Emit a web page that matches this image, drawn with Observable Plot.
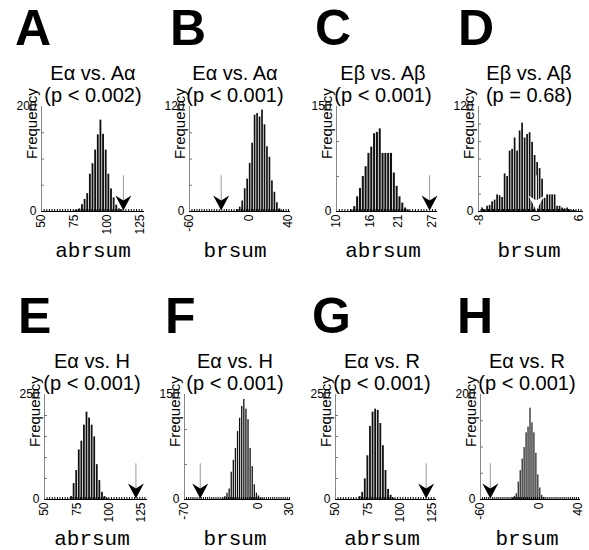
<!DOCTYPE html>
<html><head><meta charset="utf-8">
<script src="https://cdn.jsdelivr.net/npm/d3@7"></script>
<script src="https://cdn.jsdelivr.net/npm/@observablehq/plot@0.6"></script>
<style>
body{margin:0;background:#fff;}
#fig{position:relative;width:589px;height:550px;overflow:hidden;background:#fff;font-family:"Liberation Sans",Arial,Helvetica,sans-serif;color:#000;}
.abs{position:absolute;white-space:nowrap;}
.letter{font-weight:bold;font-size:50px;line-height:50px;}
.title{font-size:20px;line-height:22.4px;transform:translateX(-50%);}
.stat{font-family:"Liberation Mono","Courier New",monospace;font-size:21px;line-height:21px;transform:translateX(-50%);}
</style></head><body><div id="fig"></div>
<script>
// ---------- data ----------
const letters = ["A","B","C","D","E","F","G","H"];
const comparisons = ["Eα vs. Aα","Eα vs. Aα","Eβ vs. Aβ","Eβ vs. Aβ","Eα vs. H","Eα vs. H","Eα vs. R","Eα vs. R"];
const pValues = ["(p < 0.002)","(p < 0.001)","(p < 0.001)","(p = 0.68)","(p < 0.001)","(p < 0.001)","(p < 0.001)","(p < 0.001)"];
const statistics = ["abrsum","brsum","abrsum","brsum","abrsum","brsum","abrsum","brsum"];
const xTickValues = [[50,75,100,125],[-60,0,40],[10,16,21,27],[-8,0,6],[50,75,100,125],[-70,0,30],[50,75,100,125],[-60,0,40]];
const xDomains = [[50,128],[-60,42],[10,27.9],[-8.1,6.6],[50,130],[-70,31],[50,128],[-60,42]];
const yMaxValues = [200,120,150,120,250,150,250,200];
const yMinorSteps = [50,30,50,20,50,50,50,50];
const observedValues = [112,-28,26.5,0,121,-55,120,-50];
const binStarts = [74,-12.5,12.5,-7.7,70,-34,68,-28];
const binWidths = [2,2.5,0.5,0.35,2,2,2,2];
const countsA = [1,3,5,13,23,34,71,91,117,146,174,147,117,71,43,26,12,5,3,1];
const countsB = [2,5,12,26,37,55,78,110,112,108,116,99,74,62,35,22,10,3,1];
const countsC = [2,7,21,33,50,64,83,92,111,113,118,83,83,83,83,55,36,21,12,5,2];
const countsD = [4,2,6,7,11,13,19,18,16,43,40,69,71,84,69,92,101,84,88,90,79,64,56,49,37,15,19,19,19,19,6,6,4,3,4,2,1,1];
const countsE = [7,38,69,118,139,177,208,194,177,149,83,45,17,7,2];
const countsF = [2,4,9,15,39,56,73,97,116,133,143,129,114,73,47,21,9,5,2,1];
const countsG = [7,17,49,104,174,208,215,212,181,128,69,24,10,3];
const countsH = [3,6,11,33,55,77,99,127,138,174,146,127,88,47,22,8,4];
const allCounts = [countsA,countsB,countsC,countsD,countsE,countsF,countsG,countsH];
const whiteArrow = [false,false,false,true,false,false,false,false];

// ---------- layout ----------
const layout = [
  {ax0:41, ax1:144, lx:15, cx:93},
  {ax0:189, ax1:290, lx:170, cx:235},
  {ax0:336, ax1:437, lx:315, cx:383},
  {ax0:478, ax1:583, lx:458, cx:529},
  {ax0:44, ax1:147, lx:18, cx:92},
  {ax0:184, ax1:290, lx:165, cx:235},
  {ax0:335, ax1:436, lx:312, cx:382},
  {ax0:480, ax1:580, lx:457, cx:527}
];
const rowOffset = 288;
const mL = 45, mR = 6, mT = 6, mB = 30;

const arrowHead = {
  draw(ctx) {
    ctx.moveTo(0, 0);
    ctx.lineTo(-8, -15);
    ctx.lineTo(0, -10);
    ctx.lineTo(8, -15);
    ctx.closePath();
  }
};

const fig = document.getElementById("fig");
function addDiv(cls, text, left, top) {
  const d = document.createElement("div");
  d.className = "abs " + cls;
  d.textContent = text;
  d.style.left = left + "px";
  d.style.top = top + "px";
  fig.appendChild(d);
}

letters.forEach((letter, i) => {
  const L = layout[i];
  const off = i < 4 ? 0 : rowOffset;
  const plotTop = 106 + off, base = 211 + off;
  const plotW = L.ax1 - L.ax0, plotH = base - plotTop;
  const yMax = yMaxValues[i];
  const dom = xDomains[i];
  const bw = binWidths[i];
  const bins = allCounts[i].map((c, k) => ({x0: binStarts[i] + k * bw, x1: binStarts[i] + (k + 1) * bw, count: c}));
  const minorX = d3.range(dom[0], dom[1], bw);
  const minorY = d3.range(yMinorSteps[i], yMax, yMinorSteps[i]);
  const obs = [observedValues[i]];
  const headColor = whiteArrow[i] ? "#fff" : "#000";
  const lineColor = whiteArrow[i] ? "#fff" : "#999";

  addDiv("letter", letter, L.lx, 3 + off);
  addDiv("title", comparisons[i], L.cx, 62 + off);
  addDiv("title", pValues[i], L.cx, 84.4 + off);
  addDiv("stat", statistics[i], L.cx, 241 + off);

  const svg = Plot.plot({
    width: plotW + mL + mR,
    height: plotH + mT + mB,
    marginLeft: mL, marginRight: mR, marginTop: mT, marginBottom: mB,
    style: {fontFamily: "Liberation Sans, Arial, Helvetica, sans-serif", fontSize: "12px", background: "transparent", overflow: "visible"},
    x: {domain: dom},
    y: {domain: [0, yMax]},
    marks: [
      Plot.rectY(bins, {x1: "x0", x2: "x1", y: "count", fill: "#111", insetLeft: 0.4, insetRight: 0.4}),
      Plot.tickX(minorX, {x: d => d, insetTop: plotH - 2, stroke: "#000", strokeWidth: 1}),
      Plot.ruleY([0], {stroke: "#000", strokeWidth: 1}),
      Plot.ruleX([dom[0]], {y1: 0, y2: yMax, stroke: "#888", strokeWidth: 1}),
      Plot.tickY(minorY, {y: d => d, insetRight: plotW - 3, stroke: "#777"}),
      Plot.axisY({ticks: [0, yMax], tickSize: 0, tickPadding: 5, label: null, fontSize: 12, tickFormat: d => String(d)}),
      Plot.axisX({ticks: xTickValues[i], tickSize: 0, tickPadding: 3, tickRotate: -90, label: null, fontSize: 12, tickFormat: d => String(d)}),
      Plot.text(["Frequency"], {text: d => d, frameAnchor: "left", rotate: -90, dx: -9, fontSize: 15}),
      Plot.ruleX(obs, {x: d => d, y1: 0, y2: yMax * 0.34, stroke: lineColor, strokeWidth: 1}),
      Plot.dot(obs, {x: d => d, y: 0, symbol: arrowHead, fill: headColor, stroke: null, r: 5, dy: -1})
    ]
  });
  svg.style.position = "absolute";
  svg.style.left = (L.ax0 - mL) + "px";
  svg.style.top = (plotTop - mT) + "px";
  fig.appendChild(svg);
});
</script></body></html>
